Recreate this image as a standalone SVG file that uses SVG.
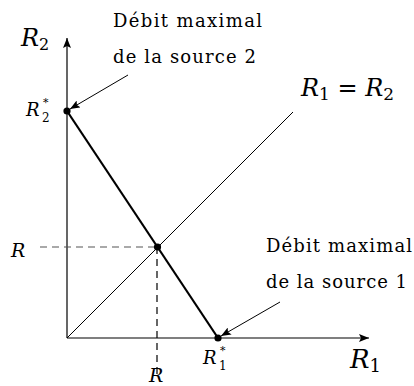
<svg xmlns="http://www.w3.org/2000/svg" width="414" height="386" viewBox="0 0 414 386">
<style>
text{font-family:'DejaVu Serif','Liberation Serif',serif}
.txt{font-size:18px;fill:#000}
.math{font-style:italic;fill:#000}
.up{font-style:normal}
.thin{stroke:#000;stroke-width:1;fill:none}
.axis{stroke:#000;stroke-width:1.2;fill:none}
.thick{stroke:#000;stroke-width:2.2;fill:none}
.dash{stroke-width:1.2;fill:none;stroke-dasharray:7 5}
</style>
<defs>
<marker id="ah" viewBox="0 0 10 8" refX="10" refY="4" markerWidth="10" markerHeight="8" markerUnits="userSpaceOnUse" orient="auto">
<path d="M0,0 L10,4 L0,8 L2,4 Z" fill="#000"/>
</marker>
</defs>
<g id="connectors">
<line class="axis" x1="67" y1="338" x2="67" y2="38" marker-end="url(#ah)"/>
<line class="axis" x1="67" y1="338" x2="369" y2="338" marker-end="url(#ah)"/>
<line class="thin" x1="67" y1="338" x2="293" y2="112"/>
<line class="thick" x1="67" y1="111" x2="218" y2="338"/>
<line class="dash" stroke="#555" x1="40" y1="247" x2="157" y2="247"/>
<line class="dash" stroke="#000" x1="157" y1="247" x2="157" y2="374"/>
<line class="thin" x1="128" y1="75" x2="70" y2="109" marker-end="url(#ah)"/>
<line class="thin" x1="280" y1="302" x2="221" y2="336" marker-end="url(#ah)"/>
</g>
<g id="point-R2star"><circle cx="67" cy="111" r="3.6" fill="#000"/></g>
<g id="point-R"><circle cx="157.5" cy="247" r="3.6" fill="#000"/></g>
<g id="point-R1star"><circle cx="218" cy="338" r="3.6" fill="#000"/></g>
<g id="label-R2"><text class="math" x="21" y="46" font-size="24">R<tspan class="up" font-size="16" dy="4">2</tspan></text></g>
<g id="label-R2star"><text class="math" x="26" y="116" font-size="18">R</text><text class="up" x="43" y="106" font-size="11">*</text><text class="up" x="42" y="122" font-size="12">2</text></g>
<g id="label-R1star"><text class="math" x="203" y="364" font-size="18">R</text><text class="up" x="220" y="354" font-size="11">*</text><text class="up" x="219" y="370" font-size="12">1</text></g>
<g id="label-R1"><text class="math" x="350" y="368" font-size="26">R<tspan class="up" font-size="18" dy="4">1</tspan></text></g>
<g id="label-eq"><text class="math" x="301" y="96" font-size="24">R<tspan class="up" font-size="17" dy="4">1</tspan><tspan class="up" dy="-4"> = </tspan>R<tspan class="up" font-size="17" dy="4">2</tspan></text></g>
<g id="label-Rleft"><text class="math" x="11" y="257" font-size="19">R</text></g>
<g id="label-Rbottom"><text class="math" x="149" y="382" font-size="19">R</text></g>
<g id="note-source2">
<text class="txt" x="113" y="27" textLength="149" lengthAdjust="spacing">Débit maximal</text>
<text class="txt" x="113" y="63" textLength="143" lengthAdjust="spacing">de la source 2</text>
</g>
<g id="note-source1">
<text class="txt" x="266" y="252" textLength="146" lengthAdjust="spacing">Débit maximal</text>
<text class="txt" x="266" y="288" textLength="141" lengthAdjust="spacing">de la source 1</text>
</g>
</svg>
